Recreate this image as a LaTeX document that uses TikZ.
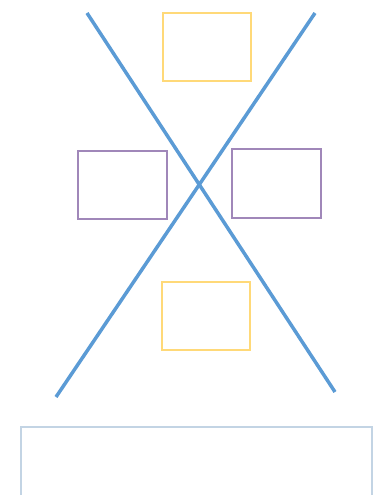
\documentclass[tikz,border=0pt]{standalone}
\begin{document}
\begin{tikzpicture}[x=1pt,y=-1pt,
  bline/.style={draw={rgb,255:red,91;green,155;blue,213},line width=3.5pt},
  ybox/.style={draw={rgb,255:red,255;green,217;blue,120},line width=1.4pt},
  pbox/.style={draw={rgb,255:red,160;green,135;blue,185},line width=1.4pt},
  gbox/.style={draw={rgb,255:red,195;green,212;blue,228},line width=1.3pt}]
\useasboundingbox (0,0) rectangle (374,495);
\coordinate (l1a) at (87,13);
\coordinate (l1b) at (335,392);
\coordinate (l2a) at (315,13);
\coordinate (l2b) at (56,397);
\draw[bline] (l1a) -- (l1b);
\draw[bline] (l2a) -- (l2b);
\draw[ybox] (163,13) rectangle (251,81);
\draw[pbox] (78,151) rectangle (167,219);
\draw[pbox] (232,149) rectangle (321,218);
\draw[ybox] (162,282) rectangle (250,350);
\draw[gbox] (21,427) rectangle (372,500);
\end{tikzpicture}
\end{document}
